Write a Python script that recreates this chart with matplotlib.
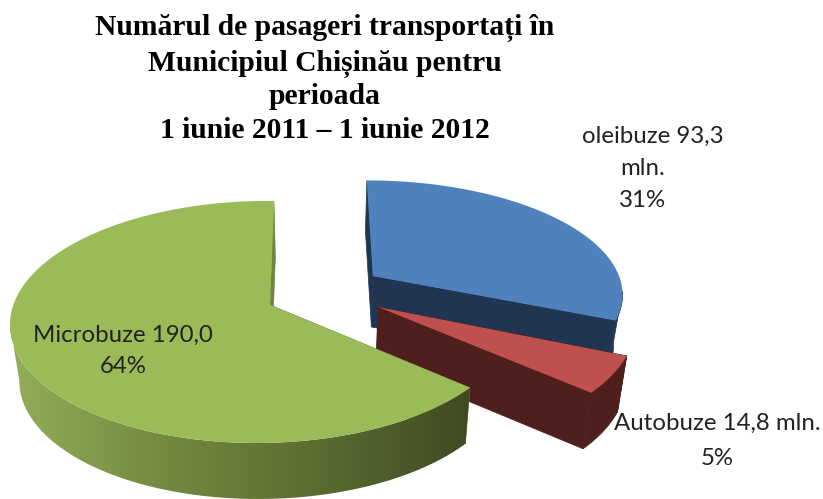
import numpy as np
import matplotlib
matplotlib.use("Agg")
import matplotlib.pyplot as plt
from matplotlib.colors import LinearSegmentedColormap
from matplotlib.patches import Polygon

# Data
categories = ["Troleibuze", "Autobuze", "Microbuze"]
values = [93.3, 14.8, 190.0]
title_lines = ["Numărul de pasageri transportați în", "Municipiul Chișinău pentru", "perioada", "1 iunie 2011 – 1 iunie 2012"]

top_colors = ["#4F81BD", "#C0504D", "#9BBB59"]
wall_colors = ["#1F3552", "#4F1F1D", "#6E8540"]

# apex x, apex y, radius x, radius y, perspective k, perspective m, skew, depth
slices = [
    (373, 276, 246, 109, 0.14, 0.0, -7, 51),
    (378, 307, 255, 120, 0.14, 0.0, 0, 56),
    (270, 305, 249, 118.6, 0.14, 0.03, 4.5, 56),
]
vanish_x = 320
shrink = 0.97


def project(theta, s):
    cx, cy, a, b, k, m, skew, depth = s
    u, v = np.cos(theta), np.sin(theta)
    w = 1 + k * v + m * u
    return cx + (a * u + skew * v) / w, cy - b * v / w


def lower(x, y, s):
    return vanish_x + (x - vanish_x) * shrink, y + s[7]


fig = plt.figure(figsize=(8.23, 4.99), dpi=100)
ax = fig.add_axes([0, 0, 1, 1])

# slice angles, clockwise from 12 o'clock
total = sum(values)
edges = np.pi / 2 - np.cumsum([0] + values) / total * 2 * np.pi

green_side = LinearSegmentedColormap.from_list("side", ["#93AE59", "#73893F", "#5A6C31", "#3E4921"])

for i, s in enumerate(slices):
    th = np.linspace(edges[i], edges[i + 1], 240)
    x, y = project(th, s)
    xb, yb = lower(x, y, s)
    ax0, ay0 = s[0], s[1]
    bx0, by0 = lower(ax0, ay0, s)
    z = i + 1

    # cut faces
    ax.fill([ax0, x[0], xb[0], bx0], [ay0, y[0], yb[0], by0], color=wall_colors[i], lw=0.5, zorder=z)
    ax.fill([ax0, x[-1], xb[-1], bx0], [ay0, y[-1], yb[-1], by0], color=wall_colors[i], lw=0.5, zorder=z)

    # outer wall, only the part of the rim facing the viewer
    front = np.sin(th) < -0.14
    wall = np.c_[np.r_[x[front], xb[front][::-1]], np.r_[y[front], yb[front][::-1]]]
    if categories[i] == "Microbuze":
        patch = Polygon(wall, closed=True, facecolor="none", edgecolor="none", transform=ax.transData)
        ax.add_patch(patch)
        im = ax.imshow(np.linspace(0, 1, 256).reshape(1, -1), cmap=green_side, aspect="auto",
                       extent=[10, 475, 499, 300], zorder=z + 0.1)
        im.set_clip_path(patch)
    else:
        ax.fill(wall[:, 0], wall[:, 1], color=wall_colors[i], lw=0.5, zorder=z)

    ax.fill(np.r_[ax0, x], np.r_[ay0, y], color=top_colors[i], lw=0, zorder=z + 0.2)

ax.set_xlim(0, 823)
ax.set_ylim(499, 0)
ax.axis("off")

# Title
title_y = [35, 71, 104, 138]
for line, yy in zip(title_lines, title_y):
    ax.text(325, yy, line, family=["Liberation Serif", "DejaVu Serif"], weight="bold",
            fontsize=21.3, ha="center", va="baseline", color="black", zorder=5)

# Data labels
lab = dict(family="Lato", fontsize=17.3, ha="center", va="baseline", color="#222222", zorder=5)
ax.text(653, 143, "oleibuze 93,3", **lab)
ax.text(643, 175, "mln.", **lab)
ax.text(643, 207, "31%", **lab)
ax.text(123, 342, "Microbuze 190,0", **lab)
ax.text(123, 373, "64%", **lab)
ax.text(717, 430, "Autobuze 14,8 mln.", **lab)
ax.text(717, 465, "5%", **lab)

plt.savefig("out.png", dpi=100)
